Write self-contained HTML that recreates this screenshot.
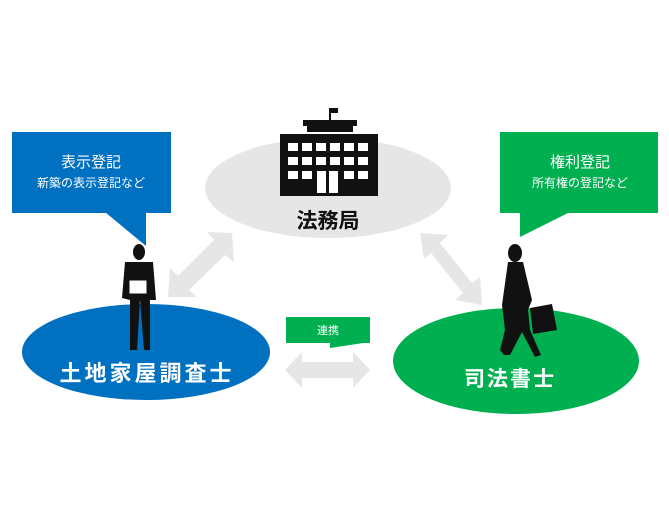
<!DOCTYPE html>
<html><head><meta charset="utf-8"><style>
body{margin:0;background:#fff;width:669px;height:500px;overflow:hidden}
svg text{font-family:"Liberation Sans","Noto Sans CJK JP",sans-serif}
</style></head><body>
<svg width="669" height="500" viewBox="0 0 669 500" xmlns="http://www.w3.org/2000/svg">
<ellipse cx="328" cy="188" rx="123" ry="50" fill="#e6e6e6"/>
<ellipse cx="146" cy="352" rx="124" ry="48" fill="#0070c0"/>
<ellipse cx="516" cy="361" rx="123" ry="53" fill="#00b050"/>
<g fill="#e6e6e6">
<polygon points="232,233 234,262 225,255 189,290 197,297 168,297 170,268 178,276 214,240 207,232"/>
<polygon points="420,233 448,235 440,243 472,283 480,277 482,305 455,300 463,293 431,253 424,259"/>
<polygon points="285,370 302,352 302,362 353,362 353,352 370,370 353,388 353,378 302,378 302,388"/>
</g>
<rect x="12" y="132" width="159" height="81" fill="#0070c0"/>
<polygon points="105,212 146,212 146,246" fill="#0070c0"/>
<text x="91" y="167" font-size="15" fill="#fff" text-anchor="middle">表示登記</text>
<text x="91" y="187" font-size="12" fill="#fff" text-anchor="middle">新築の表示登記など</text>
<rect x="500" y="132" width="158" height="81" fill="#00b050"/>
<polygon points="520,212 570,212 520,237" fill="#00b050"/>
<text x="580" y="167" font-size="15" fill="#fff" text-anchor="middle">権利登記</text>
<text x="580" y="187" font-size="12" fill="#fff" text-anchor="middle">所有権の登記など</text>
<rect x="286" y="317" width="84" height="26" fill="#00b050"/>
<polygon points="330,342 370,342 330,348" fill="#00b050"/>
<text x="328" y="334" font-size="11" fill="#fff" text-anchor="middle">連携</text>
<g fill="#111">
<rect x="329" y="108" width="2" height="12"/><rect x="331" y="108" width="7" height="5"/>
<rect x="303" y="120" width="54" height="6"/><rect x="307" y="126" width="46" height="6"/>
<rect x="280" y="134" width="98" height="62"/>
</g>
<g fill="#fff">
<rect x="288" y="143" width="10" height="8"/><rect x="302" y="143" width="10" height="8"/><rect x="316" y="143" width="10" height="8"/><rect x="330" y="143" width="10" height="8"/><rect x="344" y="143" width="10" height="8"/><rect x="358" y="143" width="10" height="8"/>
<rect x="288" y="157" width="10" height="8"/><rect x="302" y="157" width="10" height="8"/><rect x="316" y="157" width="10" height="8"/><rect x="330" y="157" width="10" height="8"/><rect x="344" y="157" width="10" height="8"/><rect x="358" y="157" width="10" height="8"/>
<rect x="288" y="171" width="10" height="8"/><rect x="302" y="171" width="10" height="8"/><rect x="344" y="171" width="10" height="8"/><rect x="358" y="171" width="10" height="8"/>
<rect x="317" y="171" width="9" height="22"/><rect x="329" y="171" width="9" height="22"/>
</g>
<text x="328" y="228" font-size="21" font-weight="bold" fill="#111" text-anchor="middle">法務局</text>
<g fill="#111">
<ellipse cx="139" cy="252" rx="6" ry="8"/>
<path d="M125,262 L153,262 L156,300 L150,300 L150,350 L144,350 L140,300 L137,350 L130,350 L130,300 L122,298 Z"/>
</g>
<rect x="129" y="280" width="18" height="14" fill="#fff" stroke="#111"/>
<g fill="#111">
<ellipse cx="515" cy="253" rx="7" ry="9"/>
<path d="M508,262 L523,262 L532,300 L528,310 L530,330 L541,355 L535,357 L522,332 L510,355 L504,355 L500,350 L505,330 L502,305 Z"/>
<path d="M530,308 L552,304 L557,330 L533,334 Z"/>
</g>
<text x="147" y="381" font-size="22" font-weight="bold" fill="#fff" text-anchor="middle" letter-spacing="3">土地家屋調査士</text>
<text x="510" y="386" font-size="21" font-weight="bold" fill="#fff" text-anchor="middle" letter-spacing="2">司法書士</text>
</svg>
</body></html>
